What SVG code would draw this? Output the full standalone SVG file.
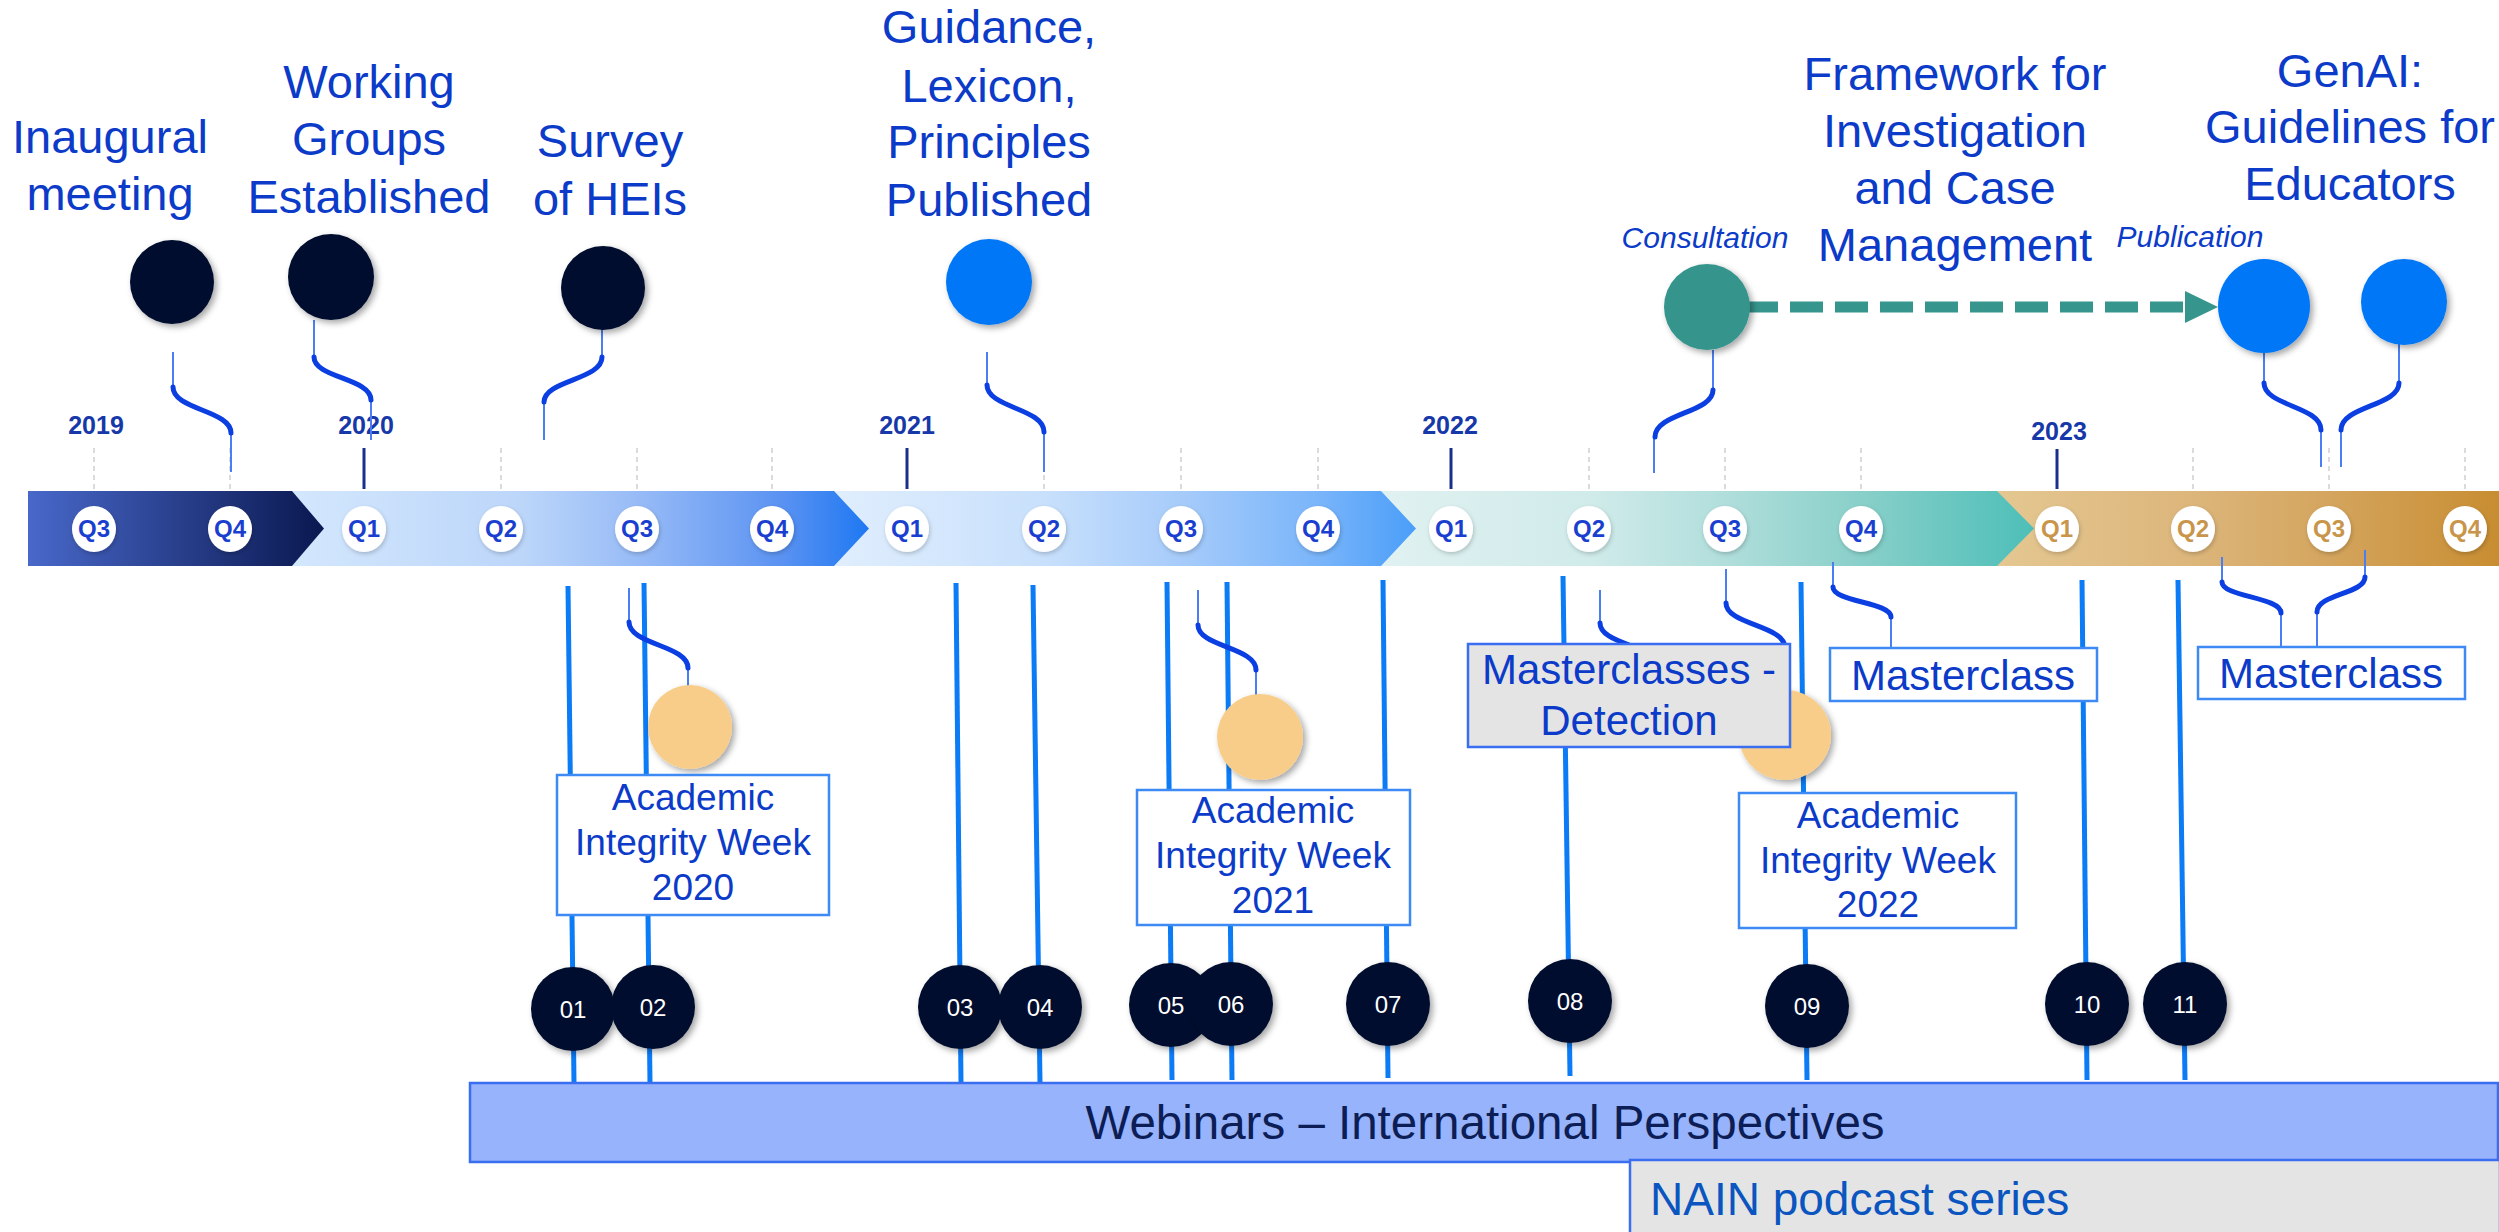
<svg xmlns="http://www.w3.org/2000/svg" width="2499" height="1232" viewBox="0 0 2499 1232">
<defs>
<linearGradient id="g1" gradientUnits="userSpaceOnUse" x1="28" y1="0" x2="324" y2="0"><stop offset="0" stop-color="#4868ca"/><stop offset="1" stop-color="#0a1850"/></linearGradient>
<linearGradient id="g2" gradientUnits="userSpaceOnUse" x1="292" y1="0" x2="869" y2="0"><stop offset="0" stop-color="#d3e7fd"/><stop offset="0.4" stop-color="#bcd6fa"/><stop offset="0.62" stop-color="#93b8f6"/><stop offset="0.85" stop-color="#5a92f2"/><stop offset="1" stop-color="#1e78f2"/></linearGradient>
<linearGradient id="g3" gradientUnits="userSpaceOnUse" x1="834" y1="0" x2="1416" y2="0"><stop offset="0" stop-color="#e0eefd"/><stop offset="0.36" stop-color="#c8e0fc"/><stop offset="0.6" stop-color="#a6cbfa"/><stop offset="0.83" stop-color="#7ab5fa"/><stop offset="1" stop-color="#4a9ef9"/></linearGradient>
<linearGradient id="g4" gradientUnits="userSpaceOnUse" x1="1381" y1="0" x2="2034" y2="0"><stop offset="0" stop-color="#e0f1f1"/><stop offset="0.32" stop-color="#d0ebea"/><stop offset="0.53" stop-color="#b0dedb"/><stop offset="0.74" stop-color="#88cfc9"/><stop offset="1" stop-color="#4dbfb8"/></linearGradient>
<linearGradient id="g5" gradientUnits="userSpaceOnUse" x1="1997" y1="0" x2="2499" y2="0"><stop offset="0" stop-color="#e4c791"/><stop offset="0.4" stop-color="#dcb57a"/><stop offset="0.66" stop-color="#d4a55e"/><stop offset="1" stop-color="#c88d31"/></linearGradient>
<filter id="sh" x="-30%" y="-30%" width="170%" height="170%"><feDropShadow dx="3" dy="3" stdDeviation="3" flood-color="#000" flood-opacity="0.35"/></filter>
<filter id="sh2" x="-30%" y="-30%" width="170%" height="170%"><feDropShadow dx="1" dy="2" stdDeviation="2" flood-color="#000" flood-opacity="0.2"/></filter>
<marker id="arr" markerUnits="userSpaceOnUse" markerWidth="34" markerHeight="34" refX="3" refY="16" orient="auto"><path d="M0,0 L33,16 L0,32 z" fill="#36958d"/></marker>
</defs>
<style>
text{font-family:"Liberation Sans",Arial,sans-serif}
.t{fill:#0b3bc8;text-anchor:middle}
.h{font-size:47px}
.it{font-size:30px;font-style:italic}
.yr{font-size:25px;font-weight:bold;fill:#1638a8;text-anchor:middle}
.q{font-size:24px;font-weight:bold;fill:#1a3fd0;text-anchor:middle}
.qg{fill:#c8954a}
.qc{fill:#fff;filter:url(#sh2)}
.num{font-size:24px;fill:#fff;text-anchor:middle}
.dk{fill:#020f2e;filter:url(#sh)}
.bl{fill:#0077f7;filter:url(#sh)}
.or{fill:#f8cd89;filter:url(#sh)}
.thin{stroke:#4a7ef2;stroke-width:2;fill:none}
.s{stroke:#0c3fe2;stroke-width:5;fill:none;stroke-linecap:round}
.wl{stroke:#0b7bf6;stroke-width:5;fill:none}
.grid{stroke:#d0d0d0;stroke-width:1.5;stroke-dasharray:5 4}
.tick{stroke:#1a2f8a;stroke-width:3}
.box{fill:#fff;stroke:#3d8af5;stroke-width:2.5}
.gbox{fill:#e4e4e4;stroke:#3a6ef0;stroke-width:2.5}
.aw{font-size:37px}
.mc{font-size:42px}
</style>
<rect width="2499" height="1232" fill="#fff"/>

<g id="timeline">
<polygon points="1997,491 2499,491 2499,566 1997,566" fill="url(#g5)"/>
<polygon points="1381,491 1997,491 2034,528.5 1997,566 1381,566" fill="url(#g4)"/>
<polygon points="834,491 1381,491 1416,528.5 1381,566 834,566" fill="url(#g3)"/>
<polygon points="292,491 834,491 869,528.5 834,566 292,566" fill="url(#g2)"/>
<polygon points="28,491 292,491 324,528.5 292,566 28,566" fill="url(#g1)"/>
<g class="grid">
<line x1="94" y1="448" x2="94" y2="490"/><line x1="230" y1="448" x2="230" y2="490"/>
<line x1="501" y1="448" x2="501" y2="490"/><line x1="637" y1="448" x2="637" y2="490"/><line x1="772" y1="448" x2="772" y2="490"/>
<line x1="1044" y1="448" x2="1044" y2="490"/><line x1="1181" y1="448" x2="1181" y2="490"/><line x1="1318" y1="448" x2="1318" y2="490"/>
<line x1="1589" y1="448" x2="1589" y2="490"/><line x1="1725" y1="448" x2="1725" y2="490"/><line x1="1861" y1="448" x2="1861" y2="490"/>
<line x1="2193" y1="448" x2="2193" y2="490"/><line x1="2329" y1="448" x2="2329" y2="490"/><line x1="2465" y1="448" x2="2465" y2="490"/>
</g>
<g class="tick">
<line x1="364" y1="448" x2="364" y2="489"/><line x1="907" y1="448" x2="907" y2="489"/><line x1="1451" y1="448" x2="1451" y2="489"/><line x1="2057" y1="449" x2="2057" y2="489"/>
</g>
<text class="yr" x="96" y="434">2019</text>
<text class="yr" x="366" y="434">2020</text>
<text class="yr" x="907" y="434">2021</text>
<text class="yr" x="1450" y="434">2022</text>
<text class="yr" x="2059" y="440">2023</text>
<g id="quarters">
<ellipse class="qc" cx="94" cy="529" rx="22" ry="23"/><text class="q" x="94" y="537">Q3</text>
<ellipse class="qc" cx="230" cy="529" rx="22" ry="23"/><text class="q" x="230" y="537">Q4</text>
<ellipse class="qc" cx="364" cy="529" rx="22" ry="23"/><text class="q" x="364" y="537">Q1</text>
<ellipse class="qc" cx="501" cy="529" rx="22" ry="23"/><text class="q" x="501" y="537">Q2</text>
<ellipse class="qc" cx="637" cy="529" rx="22" ry="23"/><text class="q" x="637" y="537">Q3</text>
<ellipse class="qc" cx="772" cy="529" rx="22" ry="23"/><text class="q" x="772" y="537">Q4</text>
<ellipse class="qc" cx="907" cy="529" rx="22" ry="23"/><text class="q" x="907" y="537">Q1</text>
<ellipse class="qc" cx="1044" cy="529" rx="22" ry="23"/><text class="q" x="1044" y="537">Q2</text>
<ellipse class="qc" cx="1181" cy="529" rx="22" ry="23"/><text class="q" x="1181" y="537">Q3</text>
<ellipse class="qc" cx="1318" cy="529" rx="22" ry="23"/><text class="q" x="1318" y="537">Q4</text>
<ellipse class="qc" cx="1451" cy="529" rx="22" ry="23"/><text class="q" x="1451" y="537">Q1</text>
<ellipse class="qc" cx="1589" cy="529" rx="22" ry="23"/><text class="q" x="1589" y="537">Q2</text>
<ellipse class="qc" cx="1725" cy="529" rx="22" ry="23"/><text class="q" x="1725" y="537">Q3</text>
<ellipse class="qc" cx="1861" cy="529" rx="22" ry="23"/><text class="q" x="1861" y="537">Q4</text>
<ellipse class="qc" cx="2057" cy="529" rx="22" ry="23"/><text class="q qg" x="2057" y="537">Q1</text>
<ellipse class="qc" cx="2193" cy="529" rx="22" ry="23"/><text class="q qg" x="2193" y="537">Q2</text>
<ellipse class="qc" cx="2329" cy="529" rx="22" ry="23"/><text class="q qg" x="2329" y="537">Q3</text>
<ellipse class="qc" cx="2465" cy="529" rx="22" ry="23"/><text class="q qg" x="2465" y="537">Q4</text>
</g>
</g>

<g id="connectors">
<g class="wl">
<path d="M568 586 L574 1083"/><path d="M644 583 L650 1083"/><path d="M956 583 L961 1083"/><path d="M1033 585 L1040 1083"/>
<path d="M1167 582 L1172 1080"/><path d="M1227 582 L1232 1080"/><path d="M1383 580 L1388 1078"/><path d="M1563 576 L1570 1076"/>
<path d="M1801 582 L1807 1080"/><path d="M2082 580 L2087 1080"/><path d="M2178 580 L2185 1080"/>
</g>
<g class="thin">
<path d="M173 352 V387 M231 433 V472"/>
<path d="M314 320 V357 M371 400 V440"/>
<path d="M602 322 V357 M544 402 V440"/>
<path d="M987 352 V385 M1044 432 V472"/>
<path d="M1713 350 V390 M1654 437 V473"/>
<path d="M2264 350 V383 M2321 430 V467"/>
<path d="M2399 343 V383 M2341 430 V467"/>
<path d="M629 588 V622 M688 668 V707"/>
<path d="M1198 590 V625 M1256 670 V710"/>
<path d="M1600 590 V623"/>
<path d="M1726 569 V603 M1785 648 V690"/>
<path d="M1833 562 V587 M1891 617 V647"/>
<path d="M2222 557 V582 M2281 613 V646"/>
<path d="M2365 550 V577 M2317 612 V646"/>
</g>
<g class="s">
<path d="M173 387 C173 410 231 410 231 433"/>
<path d="M314 357 C314 378 371 378 371 400"/>
<path d="M602 357 C602 380 544 380 544 402"/>
<path d="M987 385 C987 408 1044 408 1044 432"/>
<path d="M1713 390 C1713 413 1655 413 1655 437"/>
<path d="M2264 383 C2264 406 2321 406 2321 430"/>
<path d="M2399 383 C2399 406 2341 406 2341 430"/>
<path d="M629 622 C629 645 688 645 688 668"/>
<path d="M1198 625 C1198 647 1256 647 1256 670"/>
<path d="M1600 623 C1600 645 1658 645 1658 668"/>
<path d="M1726 603 C1726 625 1785 625 1785 648"/>
<path d="M1833 587 C1833 602 1891 602 1891 617"/>
<path d="M2222 582 C2222 597 2281 597 2281 613"/>
<path d="M2365 577 C2365 594 2317 594 2317 612"/>
</g>
<line x1="1745" y1="307" x2="2188" y2="307" stroke="#36958d" stroke-width="11" stroke-dasharray="33 12" marker-end="url(#arr)"/>
</g>

<g id="inaugural-meeting">
<circle class="dk" cx="172" cy="282" r="42"/>
<text class="t h" x="110" y="153">Inaugural</text><text class="t h" x="110" y="210">meeting</text>
</g>
<g id="working-groups">
<circle class="dk" cx="331" cy="277" r="43"/>
<text class="t h" x="369" y="98">Working</text><text class="t h" x="369" y="155">Groups</text><text class="t h" x="369" y="213">Established</text>
</g>
<g id="survey-heis">
<circle class="dk" cx="603" cy="288" r="42"/>
<text class="t h" x="610" y="157">Survey</text><text class="t h" x="610" y="215">of HEIs</text>
</g>
<g id="guidance">
<circle class="bl" cx="989" cy="282" r="43"/>
<text class="t h" x="989" y="43">Guidance,</text><text class="t h" x="989" y="102">Lexicon,</text><text class="t h" x="989" y="158">Principles</text><text class="t h" x="989" y="216">Published</text>
</g>
<g id="framework-consultation">
<circle cx="1707" cy="307" r="43" fill="#36958d" filter="url(#sh)"/>
<text class="t it" x="1705" y="248">Consultation</text>
</g>
<g id="framework-title">
<text class="t h" x="1955" y="90">Framework for</text><text class="t h" x="1955" y="147">Investigation</text><text class="t h" x="1955" y="204">and Case</text><text class="t h" x="1955" y="261">Management</text>
</g>
<g id="framework-publication">
<ellipse class="bl" cx="2264" cy="306" rx="46" ry="47"/>
<text class="t it" x="2190" y="247">Publication</text>
</g>
<g id="genai-guidelines">
<circle class="bl" cx="2404" cy="302" r="43"/>
<text class="t h" x="2350" y="87">GenAI:</text><text class="t h" x="2350" y="143">Guidelines for</text><text class="t h" x="2350" y="200">Educators</text>
</g>

<g id="aiw2020">
<circle class="or" cx="690" cy="727" r="42"/>
<rect class="box" x="557" y="775" width="272" height="140"/>
<text class="t aw" x="693" y="810">Academic</text><text class="t aw" x="693" y="855">Integrity Week</text><text class="t aw" x="693" y="900">2020</text>
</g>
<g id="aiw2021">
<circle class="or" cx="1260" cy="737" r="43"/>
<rect class="box" x="1137" y="790" width="273" height="135"/>
<text class="t aw" x="1273" y="823">Academic</text><text class="t aw" x="1273" y="868">Integrity Week</text><text class="t aw" x="1273" y="913">2021</text>
</g>
<g id="aiw2022">
<ellipse class="or" cx="1785" cy="735" rx="46" ry="45"/>
<rect class="box" x="1739" y="793" width="277" height="135"/>
<text class="t aw" x="1878" y="828">Academic</text><text class="t aw" x="1878" y="873">Integrity Week</text><text class="t aw" x="1878" y="917">2022</text>
</g>
<g id="masterclasses-detection">
<rect class="gbox" x="1468" y="644" width="322" height="103"/>
<text class="t mc" x="1629" y="684">Masterclasses -</text><text class="t mc" x="1629" y="735">Detection</text>
</g>
<g id="masterclass-2022">
<rect class="box" x="1830" y="648" width="267" height="53"/>
<text class="t mc" x="1963" y="690">Masterclass</text>
</g>
<g id="masterclass-2023">
<rect class="box" x="2198" y="647" width="267" height="52"/>
<text class="t mc" x="2331" y="688">Masterclass</text>
</g>

<g id="webinar-01"><circle class="dk" cx="573" cy="1009" r="42"/><text class="num" x="573" y="1018">01</text></g>
<g id="webinar-02"><circle class="dk" cx="653" cy="1007" r="42"/><text class="num" x="653" y="1016">02</text></g>
<g id="webinar-03"><circle class="dk" cx="960" cy="1007" r="42"/><text class="num" x="960" y="1016">03</text></g>
<g id="webinar-04"><circle class="dk" cx="1040" cy="1007" r="42"/><text class="num" x="1040" y="1016">04</text></g>
<g id="webinar-05"><circle class="dk" cx="1171" cy="1005" r="42"/><text class="num" x="1171" y="1014">05</text></g>
<g id="webinar-06"><circle class="dk" cx="1231" cy="1004" r="42"/><text class="num" x="1231" y="1013">06</text></g>
<g id="webinar-07"><circle class="dk" cx="1388" cy="1004" r="42"/><text class="num" x="1388" y="1013">07</text></g>
<g id="webinar-08"><circle class="dk" cx="1570" cy="1001" r="42"/><text class="num" x="1570" y="1010">08</text></g>
<g id="webinar-09"><circle class="dk" cx="1807" cy="1006" r="42"/><text class="num" x="1807" y="1015">09</text></g>
<g id="webinar-10"><circle class="dk" cx="2087" cy="1004" r="42"/><text class="num" x="2087" y="1013">10</text></g>
<g id="webinar-11"><circle class="dk" cx="2185" cy="1004" r="42"/><text class="num" x="2185" y="1013">11</text></g>

<g id="webinars-bar">
<rect x="470" y="1083" width="2028" height="79" fill="#97b3fc" stroke="#3a6ef0" stroke-width="2.5"/>
<text x="1485" y="1139" font-size="47.5" fill="#0c1e55" text-anchor="middle">Webinars – International Perspectives</text>
</g>
<g id="nain-podcast">
<rect x="1630" y="1160" width="870" height="80" fill="#e4e4e4" stroke="#3a6ef0" stroke-width="2.5"/>
<text x="1650" y="1215" font-size="46" fill="#0a55c0">NAIN podcast series</text>
</g>
</svg>
